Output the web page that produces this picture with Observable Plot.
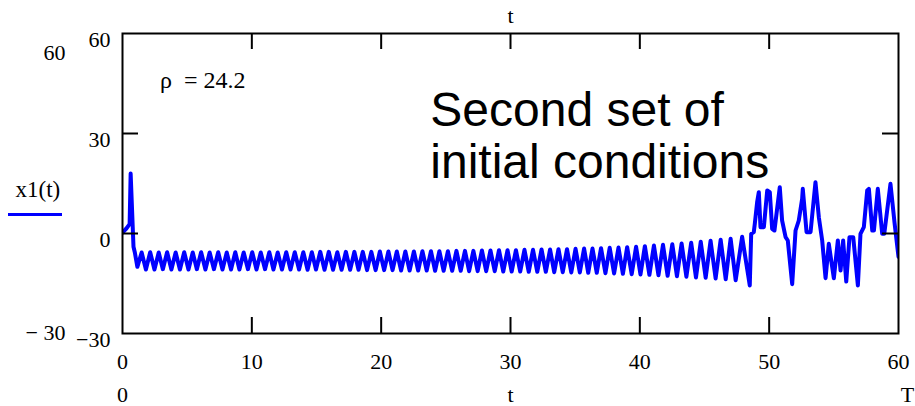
<!DOCTYPE html>
<html>
<head>
<meta charset="utf-8">
<script src="https://cdn.jsdelivr.net/npm/d3@7"></script>
<script src="https://cdn.jsdelivr.net/npm/@observablehq/plot@0.6"></script>
<style>
  html, body { margin: 0; padding: 0; background: white; }
  #chart { width: 915px; height: 406px; }
</style>
</head>
<body>
<div id="chart"></div>
<script>
// ---- Data ----
// initial transient
const startT = [0, 0.3, 0.55, 0.63, 0.85, 0.95];
const startX = [0.3, 1.5, 2.8, 18, -4, -5.6];

// oscillation around the fixed point (trough, peak, trough, peak ...)
const oscT = [
  1.15,1.48, 1.81,2.14, 2.47,2.80, 3.12,3.45, 3.78,4.11, 4.44,4.77, 5.10,5.43, 5.75,6.08,
  6.41,6.74, 7.07,7.40, 7.73,8.06, 8.39,8.72, 9.04,9.37, 9.70,10.03, 10.36,10.69, 11.02,11.35,
  11.67,12.00, 12.33,12.66, 12.99,13.32, 13.65,13.98, 14.31,14.64, 14.96,15.29, 15.62,15.95,
  16.28,16.61, 16.94,17.27, 17.60,17.93, 18.25,18.58, 18.91,19.24, 19.57,19.90, 20.23,20.56,
  20.88,21.21, 21.54,21.87, 22.20,22.53, 22.86,23.19, 23.52,23.85, 24.17,24.50, 24.83,25.16,
  25.49,25.82, 26.15,26.48, 26.80,27.13, 27.46,27.79, 28.12,28.45, 28.78,29.11, 29.44,29.77,
  30.09,30.42, 30.75,31.08, 31.41,31.74, 32.07,32.40, 32.73,33.06, 33.38,33.71, 34.04,34.37,
  34.70,35.03, 35.36,35.69, 36.01,36.34, 36.67,37.00, 37.34,37.67, 38.01,38.35, 38.69,39.02,
  39.37,39.71, 40.05,40.39, 40.74,41.09, 41.44,41.79, 42.15,42.51, 42.87,43.23, 43.60,43.97,
  44.34,44.71, 45.09,45.47, 45.86,46.25, 46.64,47.02, 47.41,47.91, 48.50
];
const oscX = [
  -10.0,-5.7, -10.8,-5.6, -10.8,-5.7, -10.7,-5.6, -10.8,-5.7, -10.8,-5.6, -10.8,-5.7, -10.7,-5.6,
  -10.8,-5.7, -10.7,-5.6, -10.8,-5.7, -10.8,-5.6, -10.8,-5.7, -10.7,-5.6, -10.8,-5.7, -10.7,-5.6,
  -10.8,-5.7, -10.8,-5.6, -10.8,-5.6, -10.8,-5.6, -10.9,-5.6, -10.8,-5.5, -10.9,-5.5,
  -10.9,-5.6, -10.9,-5.5, -10.9,-5.5, -10.9,-5.5, -11.0,-5.5, -11.0,-5.4, -11.0,-5.4,
  -11.0,-5.4, -11.1,-5.4, -11.1,-5.4, -11.1,-5.3, -11.1,-5.3, -11.2,-5.3, -11.2,-5.3,
  -11.2,-5.2, -11.2,-5.2, -11.3,-5.2, -11.3,-5.1, -11.3,-5.1, -11.3,-5.0, -11.4,-5.0,
  -11.4,-5.0, -11.4,-4.9, -11.5,-4.9, -11.5,-4.8, -11.5,-4.8, -11.6,-4.7, -11.6,-4.7,
  -11.7,-4.6, -11.7,-4.5, -11.8,-4.5, -11.8,-4.4, -11.9,-4.3, -12.0,-4.2, -12.1,-4.1,
  -12.2,-4.0, -12.3,-3.8, -12.4,-3.6, -12.5,-3.4, -12.7,-3.2, -12.8,-3.0, -13.0,-2.8,
  -13.2,-2.5, -13.3,-2.2, -13.5,-1.9, -13.7,-1.6, -14.0,-1.0, -15.6
];

// chaotic part after the escape
const chaosT = [48.61, 48.81, 48.89, 49.07, 49.20, 49.33, 49.59, 49.85, 50.05, 50.23, 50.41, 50.82,
  51.00, 51.27, 51.44, 51.78, 52.04, 52.29, 52.55, 52.60, 52.89, 53.20, 53.58, 53.84, 54.10,
  54.36, 54.61, 55.00, 55.31, 55.52, 55.72, 55.96, 56.21, 56.50, 56.86, 57.06, 57.32, 57.58,
  57.71, 57.97, 58.10, 58.40, 58.74, 58.90, 59.38, 59.70, 60.00];
const chaosX = [-0.1, 0.4, 2.9, 9.4, 12.4, 1.9, 1.9, 12.9, 12.4, 1.4, 0.9, 13.9,
  3.9, -1.1, -2.1, -15.2, 0.9, 3.9, 10.4, 13.4, 0.4, 0.4, 15.4, 4.9, -2.1,
  -13.4, -3.1, -13.4, -2.1, -11.1, -2.1, -14.4, -1.1, -1.1, -15.6, -0.1, 1.9, 12.9,
  13.4, 0.9, 0.9, 13.4, -0.1, -0.1, 14.9, 3, -7];

// axis ticks and labels
const xTickValues = [0, 10, 20, 30, 40, 50, 60];
const xInnerTicks = [10, 20, 30, 40, 50];
const yTickValues = [60, 30, 0, -30];
const yInnerTicks = [0, 30];
const seriesLabel = "x1(t)";
const paramLabel = "ρ\u00A0\u00A0= 24.2";
const noteLabel = "Second set of\ninitial conditions";

// ---- Build table ----
const allT = [...startT, ...oscT, ...chaosT];
const allX = [...startX, ...oscX, ...chaosX];
if (allT.length !== allX.length) throw new Error("length mismatch " + allT.length + " vs " + allX.length);
const series = allT.map((t, i) => ({t, x1: allX[i]}));

const W = 915, H = 406;
const mL = 122, mR = 17, mT = 33, mB = 73;
const innerW = W - mL - mR, innerH = H - mT - mB;
const tickLen = 16;
const serif = "'Liberation Serif', 'Times New Roman', serif";
const fs = 22;

const chart = Plot.plot({
  width: W, height: H,
  marginLeft: mL, marginRight: mR, marginTop: mT, marginBottom: mB,
  x: {domain: [0, 60]},
  y: {domain: [-30, 60]},
  style: {fontFamily: serif, fontSize: fs + "px", color: "black", background: "white", overflow: "visible"},
  marks: [
    Plot.line(series, {x: "t", y: "x1", stroke: "#0000ff", strokeWidth: 4, clip: true,
      strokeLinejoin: "round"}),
    Plot.frame({stroke: "black", strokeWidth: 2}),
    // inward ticks on four sides
    Plot.tickX(xInnerTicks, {x: d => d, insetTop: innerH - tickLen, stroke: "black", strokeWidth: 2}),
    Plot.tickX(xInnerTicks, {x: d => d, insetBottom: innerH - tickLen, stroke: "black", strokeWidth: 2}),
    Plot.tickY(yInnerTicks, {y: d => d, insetRight: innerW - tickLen, stroke: "black", strokeWidth: 2}),
    Plot.tickY(yInnerTicks, {y: d => d, insetLeft: innerW - tickLen, stroke: "black", strokeWidth: 2}),
    // tick labels
    Plot.axisX({ticks: xTickValues, tickSize: 0, tickPadding: 20, label: null, fontSize: fs, tickFormat: d => String(d)}),
    Plot.axisY({ticks: yTickValues, tickSize: 0, tickPadding: 12, label: null, fontSize: fs, dy: 6,
      tickFormat: d => d < 0 ? "\u2212" + Math.abs(d) : String(d)}),
    // range limits and axis labels outside the frame (Mathcad style)
    Plot.text(["t"], {frameAnchor: "top", dy: -18, lineAnchor: "middle", fontSize: fs, fontFamily: serif}),
    Plot.text(["t"], {frameAnchor: "bottom", dy: 61, lineAnchor: "middle", fontSize: fs, fontFamily: serif}),
    Plot.text(["0"], {frameAnchor: "bottom-left", dy: 61, lineAnchor: "middle", textAnchor: "middle", fontSize: fs, fontFamily: serif}),
    Plot.text(["T"], {frameAnchor: "bottom-right", dx: 9, dy: 61, lineAnchor: "middle", textAnchor: "middle", fontSize: fs, fontFamily: serif}),
    Plot.text(["60"], {frameAnchor: "top-left", dx: -57, dy: 19, lineAnchor: "middle", textAnchor: "end", fontSize: fs, fontFamily: serif}),
    Plot.text(["\u2212 30"], {frameAnchor: "bottom-left", dx: -57, dy: -1, lineAnchor: "middle", textAnchor: "end", fontSize: fs, fontFamily: serif}),
    Plot.text([seriesLabel], {frameAnchor: "left", dx: -107, dy: 6, lineAnchor: "middle", textAnchor: "start", fontSize: 23, fontFamily: serif}),
    // annotations inside the plot
    Plot.text([paramLabel], {x: () => 2.9, y: () => 46, textAnchor: "start", fontSize: 24, fontFamily: serif}),
    Plot.text([noteLabel], {x: () => 23.8, y: () => 43.3, textAnchor: "start", lineAnchor: "top",
      lineHeight: 1.08, fontSize: 48, fontFamily: "'Liberation Sans', Arial, sans-serif"})
  ]
});

// legend swatch under the series label
d3.select(chart).append("line")
  .attr("x1", 8).attr("x2", 62).attr("y1", 214.5).attr("y2", 214.5)
  .attr("stroke", "#0000ff").attr("stroke-width", 3);

document.getElementById("chart").appendChild(chart);
</script>
</body>
</html>
